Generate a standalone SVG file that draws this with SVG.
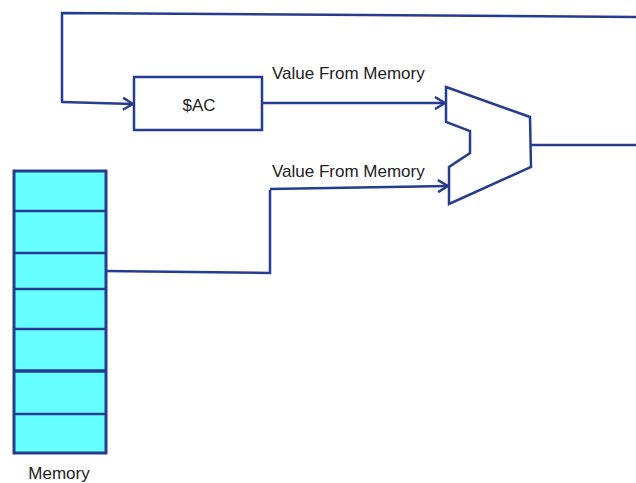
<svg xmlns="http://www.w3.org/2000/svg" width="636" height="483" viewBox="0 0 636 483">
<style>
.ln{fill:none;stroke:#263c8e;stroke-width:2.5;stroke-linejoin:miter}
.box{fill:#ffffff;stroke:#263c8e;stroke-width:2.5}
.mem{fill:#66ffff;stroke:#263c8e;stroke-width:3}
.div{stroke:#263c8e;stroke-width:2.5}
.t{font-family:"Liberation Sans",Arial,sans-serif;font-size:17px;fill:#222222}
</style>
<defs>
<marker id="arr" viewBox="0 0 12 14" refX="11" refY="7" markerWidth="12" markerHeight="14" markerUnits="userSpaceOnUse" orient="auto">
<path d="M1,1 L11,7 L1,13" fill="none" stroke="#263c8e" stroke-width="2.5"/>
</marker>
</defs>
<rect width="636" height="483" fill="#ffffff"/>
<g id="connectors">
<path class="ln" d="M636,17 L62,13 L62,103"/>
<path class="ln" d="M62,102 L133,104" marker-end="url(#arr)"/>
<path class="ln" d="M262,103 L445,103" marker-end="url(#arr)"/>
<path class="ln" d="M106,271 L270,273 L270,190 M270,189 L448,186" marker-end="url(#arr)"/>
<path class="ln" d="M530,145 L636,145"/>
</g>
<g id="ac">
<rect class="box" x="134" y="77" width="128" height="53"/>
<text class="t" x="199" y="111" text-anchor="middle">$AC</text>
</g>
<g id="mux">
<path class="ln" d="M446,87 L530,117 L531,167 L449,204 L449,167 L470,153 L470,131 L446,122 Z"/>
</g>
<g id="memory">
<rect class="mem" x="14" y="171" width="92" height="282"/>
<line class="div" x1="14" y1="211" x2="106" y2="211"/>
<line class="div" x1="14" y1="253" x2="106" y2="253"/>
<line class="div" x1="14" y1="289" x2="106" y2="289"/>
<line class="div" x1="14" y1="329" x2="106" y2="329"/>
<line class="div" x1="14" y1="371" x2="106" y2="371" style="stroke-width:3.5"/>
<line class="div" x1="14" y1="414" x2="106" y2="414"/>
<text class="t" x="59" y="479" text-anchor="middle">Memory</text>
</g>
<g id="labels">
<text class="t" x="272" y="79">Value From Memory</text>
<text class="t" x="272" y="177">Value From Memory</text>
</g>
</svg>
